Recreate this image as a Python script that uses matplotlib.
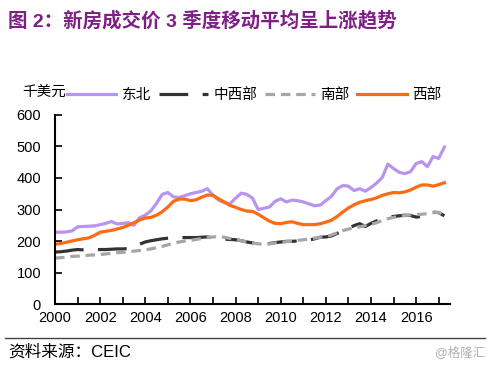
import numpy as np
import matplotlib
matplotlib.use("Agg")
import matplotlib.pyplot as plt

plt.rcParams['font.family'] = ['Liberation Sans', 'Noto Sans CJK SC', 'DejaVu Sans']

# quarterly, 2000Q1 .. 2017Q2 (3-quarter moving average, thousand USD)
start_year = 2000
northeast = [228, 228, 229, 232, 245, 246, 247, 248, 252, 256, 262, 254,
             256, 258, 250, 274, 282, 296, 320, 348, 354, 340, 338, 344,
             350, 354, 358, 366, 345, 330, 322, 318, 336, 352, 348, 336,
             300, 304, 308, 326, 334, 324, 330, 328, 324, 318, 312, 314,
             328, 342, 366, 376, 374, 360, 366, 358, 370, 384, 402, 444,
             430, 418, 414, 420, 446, 452, 436, 468, 462, 498]
midwest = [165, 166, 168, 171, 173, 172, 172, 173, 173, 173, 174, 175,
           175, 176, 180, 190, 197, 201, 204, 207, 209, 210, 211, 211,
           211, 211, 212, 213, 210, 208, 206, 205, 204, 201, 197, 194,
           191, 190, 192, 195, 197, 199, 199, 200, 200, 203, 207, 212,
           213, 216, 224, 231, 240, 249, 255, 246, 256, 264, 269, 275,
           278, 280, 282, 281, 276, 278, 286, 292, 290, 280]
south = [146, 147, 149, 151, 152, 153, 155, 156, 157, 159, 161, 163,
         164, 166, 168, 170, 172, 175, 179, 183, 188, 193, 197, 200,
         202, 205, 208, 211, 213, 214, 212, 208, 205, 201, 197, 194,
         191, 190, 191, 194, 196, 198, 200, 202, 204, 206, 209, 212,
         214, 219, 226, 233, 238, 242, 245, 249, 253, 258, 265, 271,
         275, 278, 281, 283, 284, 285, 287, 290, 291, 278]
west = [190, 192, 196, 200, 204, 207, 210, 218, 228, 231, 234, 238,
        243, 250, 258, 267, 273, 275, 282, 293, 308, 326, 333, 333,
        328, 331, 339, 346, 345, 334, 324, 313, 307, 300, 295, 294,
        285, 274, 263, 256, 255, 259, 261, 256, 252, 252, 252, 255,
        260, 266, 278, 292, 305, 315, 323, 328, 332, 337, 345, 350,
        354, 353, 356, 362, 371, 378, 378, 374, 379, 385]

t = start_year + np.arange(len(northeast)) / 4.0
years = list(range(2000, 2018))
year_labels = [str(y) if y % 2 == 0 else '' for y in years]

fig = plt.figure(figsize=(5, 3.65), dpi=100)
ax = fig.add_axes([0.11, 0.167, 0.79, 0.518])

ax.plot(t, northeast, color='#B894F2', lw=2.3, label='东北')
ax.plot(t, midwest, color='#333333', lw=2.3, dashes=(9, 4.5), label='中西部')
ax.plot(t, south, color='#A6A6A6', lw=2.3, dashes=(3, 1.8), label='南部')
ax.plot(t, west, color='#FF6A13', lw=2.3, label='西部')

ax.set_xlim(2000, 2017.5)
ax.set_ylim(0, 600)
ax.set_xticks(years)
ax.set_xticklabels(year_labels)
ax.set_yticks(range(0, 601, 100))
ax.tick_params(axis='both', direction='in', length=5, width=1.2, labelsize=10.5)
ax.tick_params(axis='x', pad=5)
ax.tick_params(axis='y', pad=10)
for s in ['top', 'right']:
    ax.spines[s].set_visible(False)
for s in ['left', 'bottom']:
    ax.spines[s].set_linewidth(1.5)

ax.legend(loc='lower left', bbox_to_anchor=(0.03, 1.07), ncol=4, frameon=False,
          fontsize=10.5, handlelength=3.4, handletextpad=0.35, columnspacing=0.55,
          borderaxespad=0, borderpad=0)

fig.text(0.045, 0.748, '千美元', fontsize=10.5, ha='left', va='center')
fig.text(0.016, 0.945, '图 2：新房成交价 3 季度移动平均呈上涨趋势', fontsize=14,
         fontweight='bold', color='#7E1F86', ha='left', va='center')

fig.add_artist(plt.Line2D([0.01, 0.97], [0.074, 0.074], color='#444444', lw=1))
fig.text(0.016, 0.035, '资料来源：CEIC', fontsize=12, ha='left', va='center')
fig.text(0.97, 0.035, '@格隆汇', fontsize=9, color='#B0B0B0', ha='right', va='center')

fig.savefig('out.png', dpi=100)
